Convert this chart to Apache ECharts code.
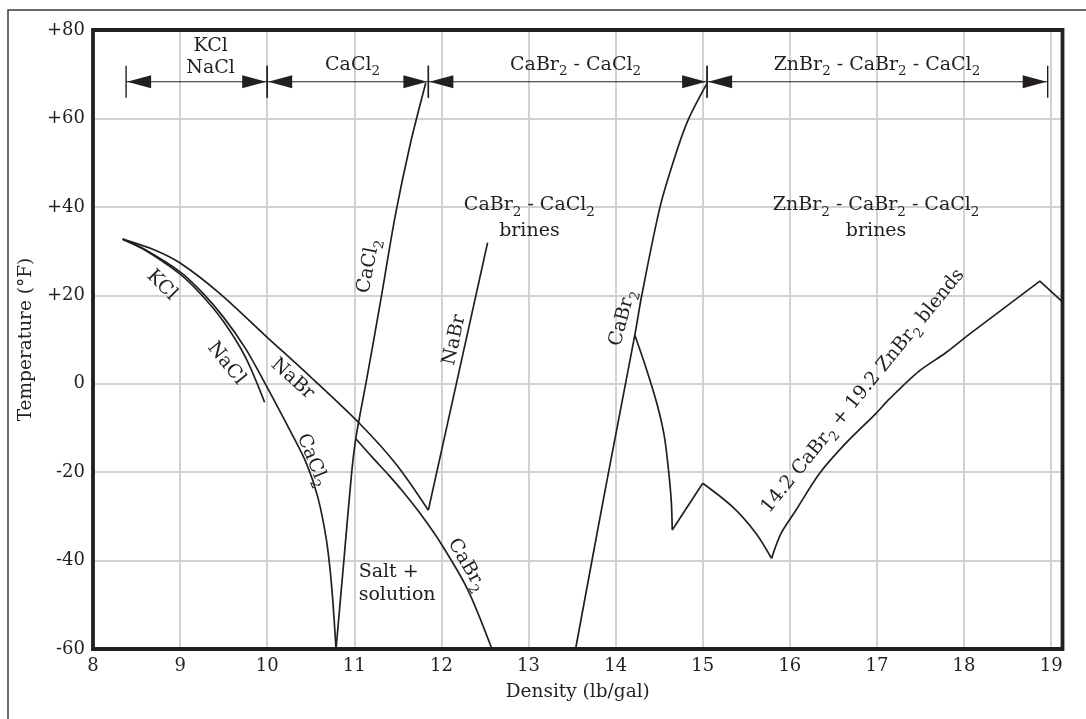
<!DOCTYPE html>
<html><head><meta charset="utf-8">
<script src="https://cdn.jsdelivr.net/npm/echarts/dist/echarts.min.js"></script>
<style>html,body{margin:0;padding:0;background:#fff}#c{width:1086px;height:719px}</style>
</head><body><div id="c"></div>
<script>
// ---------- data (density lb/gal, temperature °F) ----------
const xTicks = [8, 9, 10, 11, 12, 13, 14, 15, 16, 17, 18, 19];
const yTicks = [-60, -40, -20, 0, 20, 40, 60, 80];

const naclCurve   = [[8.34,32.7],[8.6,30.2],[9.0,24.8],[9.25,20],[9.5,14],[9.75,6],[9.97,-4.2]];
const cacl2Left   = [[8.34,32.7],[8.6,30.3],[9.0,25.3],[9.25,20.7],[9.5,15],[9.75,8],[9.95,1],[10.1,-4.5],[10.26,-10.5],[10.45,-18],[10.58,-25.6],[10.68,-35.4],[10.74,-45.9],[10.79,-60]];
const nabrCurve   = [[8.34,32.7],[8.7,30.3],[9.0,27.3],[9.45,20.5],[10.0,10.5],[10.5,1.5],[11.06,-9],[11.48,-18.2],[11.85,-28.6]];
const nabrRight   = [[11.85,-28.6],[12.53,31.9]];
const cacl2Right  = [[10.79,-60],[10.88,-40],[10.97,-20],[11.02,-12],[11.14,0.8],[11.3,18.5],[11.47,38],[11.64,54],[11.82,68]];
const cabr2Lower  = [[11.02,-12.5],[11.2,-16.5],[11.41,-21],[11.52,-23.5],[11.75,-29.2],[12.0,-36.3],[12.3,-46.5],[12.58,-60]];
const cabr2Right  = [[13.54,-60],[13.88,-24],[14.22,11],[14.30,20],[14.51,40],[14.70,52.5],[14.84,60],[15.05,68]];
const blendBranch = [[14.22,11],[14.35,3.5],[14.475,-4.6],[14.56,-12],[14.61,-20.1],[14.64,-27],[14.65,-33.1]];
const blendRise1  = [[14.65,-33.1],[15.0,-22.5]];
const blendDrop   = [[15.0,-22.5],[15.34,-27.8],[15.61,-33.8],[15.79,-39.5]];
const blendRise2  = [[15.79,-39.5],[15.9,-33.8],[16.07,-28.6],[16.34,-20.3],[16.64,-13.5],[16.99,-6.7],[17.14,-3.5],[17.48,2.8],[17.79,7.0],[18.02,10.6]];
const blendTop    = [[18.02,10.6],[18.87,23.2],[19.13,18.5]];

const bracketStops  = [8.38, 10.0, 11.85, 15.05, 18.96];
const bracketLevel  = 68.3;
const bracketLabels = ['KCl\nNaCl', 'CaCl₂', 'CaBr₂ - CaCl₂', 'ZnBr₂ - CaBr₂ - CaCl₂'];
const bracketLabelX = [9.35, 10.98, 13.54, 17.0];

const noteTexts = ['KCl','NaCl','NaBr','CaCl₂','CaCl₂','NaBr','CaBr₂','CaBr₂','Salt +\nsolution','CaBr₂ - CaCl₂\nbrines','ZnBr₂ - CaBr₂ - CaCl₂\nbrines','14.2 CaBr₂ + 19.2 ZnBr₂ blends'];
const noteX     = [8.79, 9.53, 10.29, 10.52, 11.165, 12.15, 12.29, 14.08, 11.05, 13.01, 16.99, 16.84];
const noteY     = [22.3, 4.6, 1.1, -17.3, 26.6, 9.9, -41.0, 14.9, -45.2, 37.8, 37.8, -1.65];

// ---------- styles ----------
const INK = '#231f20';
const FONT = '"DejaVu Serif", "Liberation Serif", serif';
const noteRot   = [-45, -51, -42, -68, 79, 77.5, -60, 75, 0, 0, 0, 50.7];
const noteAlign = ['center','center','center','center','center','center','center','center','left','center','center','center'];

const G = {left: 93, top: 30, right: 23.5, bottom: 70};
const W = 1086, H = 719;

// subscript "2" rendered as a smaller, lowered rich-text token
const RICH = {s: {fontSize: 13.5, fontFamily: FONT, fill: INK, verticalAlign: 'bottom', lineHeight: 28}};
function subText(t) { return t.replace(/₂/g, '{s|2}'); }

const lineStyle = {color: INK, width: 1.7};
function curve(data, smooth) {
  return {type: 'line', data: data, symbol: 'none', showSymbol: false,
    smooth: smooth ? 0.3 : false,
    lineStyle: lineStyle, z: 3, silent: true, animation: false};
}

const chart = echarts.init(document.getElementById('c'), null, {renderer: 'canvas'});
chart.setOption({
  animation: false,
  backgroundColor: '#fff',
  grid: {left: G.left, top: G.top, right: G.right, bottom: G.bottom, show: false},
  xAxis: {
    type: 'value', min: xTicks[0], max: 19.13, interval: 1,
    name: 'Density (lb/gal)', nameLocation: 'middle', nameGap: 34,
    nameTextStyle: {fontFamily: FONT, fontSize: 18.5, color: INK},
    axisLine: {show: false}, axisTick: {show: false},
    axisLabel: {fontFamily: FONT, fontSize: 18, color: INK, margin: 8,
      showMaxLabel: false,
      formatter: v => xTicks.indexOf(v) >= 0 ? String(v) : ''},
    splitLine: {show: true, showMinLine: false, showMaxLine: false, lineStyle: {color: '#d2d2d2', width: 2}}
  },
  yAxis: {
    type: 'value', min: yTicks[0], max: yTicks[yTicks.length-1], interval: 20,
    name: 'Temperature (°F)', nameLocation: 'middle', nameGap: 48,
    nameTextStyle: {fontFamily: FONT, fontSize: 18.5, color: INK},
    axisLine: {show: false}, axisTick: {show: false},
    axisLabel: {fontFamily: FONT, fontSize: 18, color: INK, margin: 8,
      formatter: v => (v > 0 ? '+' : '') + v},
    splitLine: {show: true, showMinLine: false, showMaxLine: false, lineStyle: {color: '#d2d2d2', width: 2}}
  },
  graphic: [
    {type: 'rect', z: 100, silent: true,
     shape: {x: 8, y: 10, width: W + 40, height: H + 40},
     style: {fill: 'none', stroke: '#3a3a3a', lineWidth: 1.5}},
    {type: 'rect', z: 100, silent: true,
     shape: {x: G.left, y: G.top, width: W - G.left - G.right, height: H - G.top - G.bottom},
     style: {fill: 'none', stroke: INK, lineWidth: 3.8}}
  ],
  series: [
    curve(naclCurve, true),
    curve(cacl2Left, true),
    curve(nabrCurve, true),
    curve(nabrRight, false),
    curve(cacl2Right, true),
    curve(cabr2Lower, true),
    curve(cabr2Right, true),
    curve(blendBranch, true),
    curve(blendRise1, false),
    curve(blendDrop, true),
    curve(blendRise2, true),
    curve(blendTop, false),
    {
      type: 'custom', z: 5, silent: true, animation: false,
      data: bracketStops.slice(0, -1).map((s, i) => [s, bracketStops[i + 1], i]),
      renderItem: function (params, api) {
        const i = api.value(2);
        const p0 = api.coord([api.value(0), bracketLevel]);
        const p1 = api.coord([api.value(1), bracketLevel]);
        const pl = api.coord([bracketLabelX[i], bracketLevel]);
        const y = p0[1], L = 25, A = 6.5, T = 16;
        return {type: 'group', children: [
          {type: 'line', shape: {x1: p0[0], y1: y, x2: p1[0], y2: y}, style: {stroke: INK, lineWidth: 1.2}},
          {type: 'polygon', shape: {points: [[p0[0] + 1, y], [p0[0] + L, y - A], [p0[0] + L, y + A]]}, style: {fill: INK}},
          {type: 'polygon', shape: {points: [[p1[0] - 1, y], [p1[0] - L, y - A], [p1[0] - L, y + A]]}, style: {fill: INK}},
          {type: 'line', shape: {x1: p0[0], y1: y - T, x2: p0[0], y2: y + T}, style: {stroke: INK, lineWidth: 1.4}},
          {type: 'line', shape: {x1: p1[0], y1: y - T, x2: p1[0], y2: y + T}, style: {stroke: INK, lineWidth: 1.4}},
          {type: 'text', x: pl[0], y: y - 3, style: {text: subText(bracketLabels[i]), rich: RICH,
            font: '19px ' + FONT, fill: INK, align: 'center', verticalAlign: 'bottom', lineHeight: 22}}
        ]};
      }
    },
    {
      type: 'custom', z: 5, silent: true, animation: false,
      data: noteX.map((x, i) => [x, noteY[i], i]),
      renderItem: function (params, api) {
        const i = api.value(2);
        const p = api.coord([api.value(0), api.value(1)]);
        return {type: 'text', x: p[0], y: p[1], rotation: noteRot[i] * Math.PI / 180,
          style: {text: subText(noteTexts[i]), rich: RICH, font: '19px ' + FONT, fill: INK,
            align: noteAlign[i], verticalAlign: 'middle', lineHeight: 23}};
      }
    }
  ]
});
</script></body></html>
